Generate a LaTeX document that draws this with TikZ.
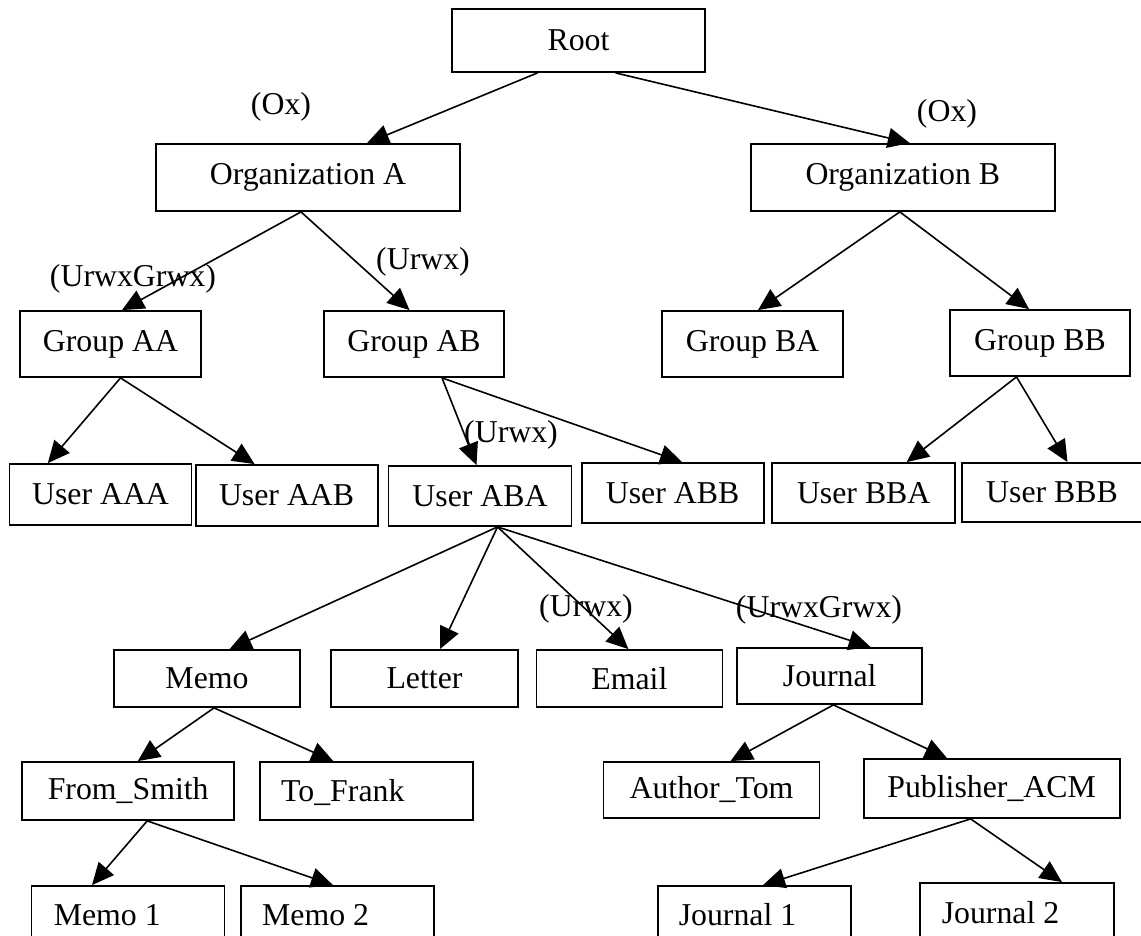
\documentclass[tikz,border=0pt]{standalone}
\usepackage{fontspec}
\setmainfont{Liberation Serif}
\usetikzlibrary{arrows.meta}
\begin{document}
\begin{tikzpicture}[x=1pt,y=-1pt]
\tikzset{
  txt/.style={font=\fontsize{31.8}{38}\selectfont},
  box/.style={txt, draw=black, line width=1.8pt, inner sep=0pt, fill=white},
  sz/.style 2 args={minimum width=#1pt, minimum height=#2pt},
  padtext/.style={txt, inner sep=0pt, anchor=base west},
  lbl/.style={txt, inner sep=0pt},
  conn/.style={line width=1.6pt, -{Triangle[length=22pt,width=20pt]}}
}
\clip (0,0) rectangle (1141,936);
\fill[white] (0,0) rectangle (1141,936);

% level 0 and 1
\node[box, sz={253}{63}] (root) at (578.5,40.5) {Root};
\node[box, sz={304}{67}] (orgA) at (308,177.5) {Organization A};
\node[box, sz={304}{67}] (orgB) at (902.8,177.5) {Organization B};

% groups
\node[box, sz={181}{66}] (gAA) at (110.5,344) {Group AA};
\node[box, sz={180}{66}] (gAB) at (414,344) {Group AB};
\node[box, sz={181}{66}] (gBA) at (752.5,344) {Group BA};
\node[box, sz={180}{66}] (gBB) at (1040,343) {Group BB};

% users
\node[box, sz={182}{61}] (uAAA) at (100.5,494.5) {User AAA};
\node[box, sz={182}{61}] (uAAB) at (286.6,495.5) {User AAB};
\node[box, sz={183}{60}] (uABA) at (480,496) {User ABA};
\node[box, sz={182}{60}] (uABB) at (672.6,493) {User ABB};
\node[box, sz={183}{60}] (uBBA) at (863.7,493) {User BBA};
\node[box, sz={180}{59}] (uBBB) at (1052,492.5) {User BBB};

% document folders
\node[box, sz={186}{57}] (memo) at (207,678.5) {Memo};
\node[box, sz={187}{57}] (letter) at (424.5,678.5) {Letter};
\node[box, sz={186}{57}] (email) at (629.4,678.5) {Email};
\node[box, sz={185}{56}] (journal) at (829.7,676) {Journal};

% sub folders
\node[box, sz={212}{58}] (fromSmith) at (128.2,791) {From\_Smith};
\node[box, sz={212.6}{58}] (toFrank) at (366.3,791) {};
\node[box, sz={216}{56}] (authorTom) at (711.5,790) {Author\_Tom};
\node[box, sz={256}{59}] (publisher) at (991.6,788.5) {Publisher\_ACM};

% documents (bottom edges run off the page)
\node[box, sz={193}{58}] (memo1) at (128,915) {};
\node[box, sz={193}{58}] (memo2) at (337.7,915) {};
\node[box, sz={193}{58}] (journal1) at (754.5,915) {};
\node[box, sz={194}{58}] (journal2) at (1017,912) {};

% left-set captions of the boxes above
\node[padtext] (toFrankT) at (281,801) {To\_Frank};
\node[padtext] (memo1T) at (53.6,925) {Memo 1};
\node[padtext] (memo2T) at (262,925) {Memo 2};
\node[padtext] (journal1T) at (678.6,925) {Journal 1};
\node[padtext] (journal2T) at (941.6,923) {Journal 2};

% permission labels
\node[lbl] (pOxA) at (281,107) {(Ox)};
\node[lbl] (pOxB) at (947,114) {(Ox)};
\node[lbl] (pGAA) at (133,279) {(UrwxGrwx)};
\node[lbl] (pGAB) at (423,262) {(Urwx)};
\node[lbl] (pABA) at (511,435) {(Urwx)};
\node[lbl] (pEmail) at (586,609) {(Urwx)};
\node[lbl] (pJournal) at (819,610) {(UrwxGrwx)};

% connectors
\draw[conn] ([xshift=-41pt]root.south) -- ([xshift=59pt]orgA.north);
\draw[conn] ([xshift=37pt]root.south) -- ([xshift=7pt]orgB.north);
\draw[conn] ([xshift=-7pt]orgA.south) -- ([xshift=11.5pt]gAA.north);
\draw[conn] ([xshift=-7pt]orgA.south) -- ([xshift=-4.5pt]gAB.north);
\draw[conn] ([xshift=-3pt]orgB.south) -- ([xshift=5.5pt]gBA.north);
\draw[conn] ([xshift=-3pt]orgB.south) -- ([xshift=-11pt]gBB.north);
\draw[conn] ([xshift=10pt]gAA.south) -- ([xshift=-52.7pt]uAAA.north);
\draw[conn] ([xshift=10pt]gAA.south) -- ([xshift=-32pt]uAAB.north);
\draw[conn] ([xshift=28pt]gAB.south) -- ([xshift=-3.5pt]uABA.north);
\draw[conn] ([xshift=28pt]gAB.south) -- ([xshift=9.5pt]uABB.north);
\draw[conn] ([xshift=-23.5pt]gBB.south) -- ([xshift=43pt]uBBA.north);
\draw[conn] ([xshift=-23.5pt]gBB.south) -- ([xshift=15.5pt]uBBB.north);
\draw[conn] ([xshift=17.5pt]uABA.south) -- ([xshift=22.6pt]memo.north);
\draw[conn] ([xshift=17.5pt]uABA.south) -- ([xshift=15.5pt]letter.north);
\draw[conn] ([xshift=17.5pt]uABA.south) -- ([xshift=-1pt]email.north);
\draw[conn] ([xshift=17.5pt]uABA.south) -- ([xshift=41pt]journal.north);
\draw[conn] ([xshift=7pt]memo.south) -- ([xshift=9.6pt]fromSmith.north);
\draw[conn] ([xshift=7pt]memo.south) -- ([xshift=-33pt]toFrank.north);
\draw[conn] ([xshift=19pt]fromSmith.south) -- ([xshift=-36pt]memo1.north);
\draw[conn] ([xshift=19pt]fromSmith.south) -- ([xshift=-4.7pt]memo2.north);
\draw[conn] ([xshift=3.7pt]journal.south) -- ([xshift=19pt]authorTom.north);
\draw[conn] ([xshift=3.7pt]journal.south) -- ([xshift=-44.6pt]publisher.north);
\draw[conn] ([xshift=-21pt]publisher.south) -- ([xshift=8.5pt]journal1.north);
\draw[conn] ([xshift=-21pt]publisher.south) -- ([xshift=45pt]journal2.north);
\end{tikzpicture}
\end{document}
